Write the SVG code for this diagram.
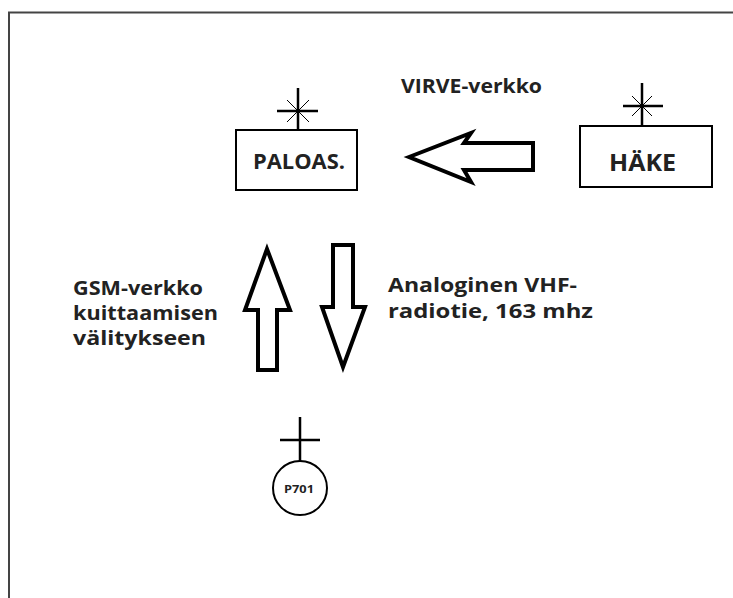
<svg xmlns="http://www.w3.org/2000/svg" width="733" height="598" viewBox="0 0 733 598">
<style>
.box{fill:#fff;stroke:#000;stroke-width:2}
.ant{stroke:#000;stroke-width:2.5;fill:none}
.diag{stroke:#000;stroke-width:1;fill:none}
.arr{fill:#fff;stroke:#000;stroke-width:4;stroke-linejoin:miter}
.t{font-family:"Open Sans","Liberation Sans",sans-serif;font-weight:bold;fill:#222}
</style>
<rect x="0" y="0" width="733" height="598" fill="#fff"/>
<path d="M9,598 V12.5 H733" fill="none" stroke="#444" stroke-width="2"/>
<g id="paloas">
<rect class="box" x="236" y="130" width="121" height="60"/>
<path class="ant" d="M298,88 V130 M277,111 H318"/>
<path class="diag" d="M287,100 L309,122 M309,100 L287,122"/>
<text class="t" x="253" y="169" font-size="21" textLength="92" lengthAdjust="spacingAndGlyphs">PALOAS.</text>
</g>
<g id="hake">
<rect class="box" x="580" y="126" width="132" height="61"/>
<path class="ant" d="M642,83 V126 M623,106 H663"/>
<path class="diag" d="M632,96 L652,116 M652,96 L632,116"/>
<text class="t" x="609" y="171" font-size="24" textLength="67" lengthAdjust="spacingAndGlyphs">HÄKE</text>
</g>
<g id="p701">
<circle cx="300" cy="488" r="27" fill="#fff" stroke="#000" stroke-width="2"/>
<path class="ant" d="M300,417 V461 M280,440 H320"/>
<text class="t" x="284" y="493" font-size="10" textLength="30" lengthAdjust="spacingAndGlyphs">P701</text>
</g>
<g id="connectors">
<polygon class="arr" points="409,157 471,133 464,143 533,143 533,170 464,170 471,182"/>
<polygon class="arr" points="267,249 245,310 258,310 258,370 277,370 277,310 290,310"/>
<polygon class="arr" points="333,245 353,245 353,307 365,307 343,367 322,307 333,307"/>
</g>
<g id="labels">
<text class="t" x="401" y="93" font-size="20" textLength="141" lengthAdjust="spacingAndGlyphs">VIRVE-verkko</text>
<text class="t" x="73" y="295" font-size="20" textLength="130" lengthAdjust="spacingAndGlyphs">GSM-verkko</text>
<text class="t" x="73" y="320" font-size="20" textLength="145" lengthAdjust="spacingAndGlyphs">kuittaamisen</text>
<text class="t" x="73" y="345" font-size="20" textLength="133" lengthAdjust="spacingAndGlyphs">välitykseen</text>
<text class="t" x="388" y="292" font-size="20" textLength="189" lengthAdjust="spacingAndGlyphs">Analoginen VHF-</text>
<text class="t" x="388" y="318" font-size="20" textLength="205" lengthAdjust="spacingAndGlyphs">radiotie, 163 mhz</text>
</g>
</svg>
